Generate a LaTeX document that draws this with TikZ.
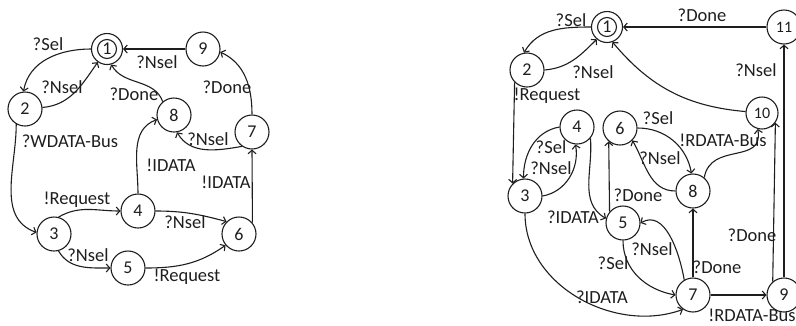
\documentclass[tikz,border=0pt]{standalone}
\usepackage{fontspec}
\setmainfont{Carlito}
\usetikzlibrary{arrows.meta}
\definecolor{ink}{HTML}{1E1E1E}
\begin{document}
\begin{tikzpicture}[x=1pt,y=1pt,
  st/.style={circle,draw=ink,line width=1.1pt,minimum size=34pt,inner sep=0pt,text=ink,font=\fontsize{18}{18}\selectfont},
  stsmall/.style={st,font=\fontsize{16}{16}\selectfont},
  init/.style={st,minimum size=31pt,path picture={\draw[ink,line width=1.1pt] (path picture bounding box.center) circle (9.5pt);}},
  lab/.style={inner sep=0pt,text=ink,font=\fontsize{18.5}{18.5}\selectfont},
  tr/.style={draw=ink,line width=1.1pt,-{Straight Barb[length=3.5pt,width=8pt]}}]
\useasboundingbox (0,0) rectangle (796,-325);
% ---------- left ----------
\node[init] (a1) at (107,-49) {1};
\node[st] (a9) at (203,-49) {9};
\node[st] (a2) at (25,-109) {2};
\node[st] (a8) at (174,-115) {8};
\node[st] (a7) at (252,-132) {7};
\node[st] (a4) at (138,-211) {4};
\node[st] (a3) at (54,-234) {3};
\node[st] (a5) at (128,-268) {5};
\node[st] (a6) at (239,-234) {6};
\draw[tr] (a1.west) to[out=180,in=80] (a2.95);
\draw[tr] (a2.5) to[out=5,in=235] (a1.235);
\draw[tr] (a9) -- (a1);
\draw[tr] (a7.north) to[out=90,in=-25] (a9.-10);
\draw[tr] (a8.130) to[out=110,in=-60] (a1.285);
\draw[tr] (a7.235) to[out=190,in=-60] (a8.280);
\draw[tr] (a2.240) to[out=-90,in=160] (a3.175);
\draw[tr] (a3.75) to[out=30,in=180] (a4.west);
\draw[tr] (a4.90) to[out=90,in=200] (a8.195);
\draw[tr] (a4.east) to[out=0,in=165] (a6.135);
\draw[tr] (a3.285) to[out=-60,in=180] (a5.west);
\draw[tr] (a5.east) to[out=0,in=215] (a6.220);
\draw[tr] (a6.40) -- (a7.270);
\node[lab] (la1) at (48,-44) {?Sel};
\node[lab] (la2) at (62,-87) {?Nsel};
\node[lab] (la3) at (157,-62) {?Nsel};
\node[lab] (la4) at (134,-94) {?Done};
\node[lab] (la5) at (227,-87) {?Done};
\node[lab] (la6) at (208,-139) {?Nsel};
\node[lab] (la7) at (70,-141) {?WDATA-Bus};
\node[lab] (la8) at (171,-165) {!IDATA};
\node[lab] (la9) at (226,-182) {!IDATA};
\node[lab] (la10) at (77,-200) {!Request};
\node[lab] (la11) at (185,-222) {?Nsel};
\node[lab] (la12) at (88,-255) {?Nsel};
\node[lab] (la13) at (187,-277) {!Request};
% ---------- right ----------
\node[init] (b1) at (607,-27) {1};
\node[stsmall] (b11) at (784,-27) {11};
\node[st] (b2) at (527,-70) {2};
\node[stsmall,minimum size=32pt] (b10) at (762,-113) {10};
\node[st] (b4) at (577,-127) {4};
\node[st] (b6) at (620,-128) {6};
\node[st] (b3) at (525,-196) {3};
\node[st] (b8) at (693,-191) {8};
\node[st] (b5) at (623,-223) {5};
\node[st] (b7) at (693,-295) {7};
\node[st] (b9) at (784,-295) {9};
\draw[tr] (b1.west) to[out=180,in=60] (b2.100);
\draw[tr] (b2.east) to[out=5,in=225] (b1.230);
\draw[tr] (b11.west) -- (b1.east);
\draw[tr] (b10.175) to[out=175,in=-50] (b1.290);
\draw[tr] (b2.225) -- (b3.135);
\draw[tr] (b4.west) to[out=190,in=90] (b3.95);
\draw[tr] (b3.east) to[out=10,in=-80] (b4.265);
\draw[tr] (b4.-40) to[out=-85,in=150] (b5.165);
\draw[tr] (b5.140) -- (b6.230);
\draw[tr] (b6.east) to[out=0,in=100] (b8.95);
\draw[tr] (b8.west) to[out=180,in=-60] (b6.-45);
\draw[tr] (b8.50) to[out=80,in=-80,looseness=1.3] (b10.255);
\draw[tr] (b5.south) to[out=-90,in=170] (b7.west);
\draw[tr] (b7.120) to[out=100,in=30] (b5.east);
\draw[tr] (b7.north) -- (b8.south);
\draw[tr] (b3.south) to[out=-90,in=-160] (b7.235);
\draw[tr] (b7.east) -- (b9.west);
\draw[tr] (b9.130) -- (b10.-36);
\draw[tr] (b9.north) -- (b11.south);
\node[lab] (lb1) at (571,-20) {?Sel};
\node[lab] (lb2) at (702,-15) {?Done};
\node[lab] (lb3) at (593,-72) {?Nsel};
\node[lab] (lb4) at (756,-70) {?Nsel};
\node[lab] (lb5) at (547,-96) {!Request};
\node[lab] (lb6) at (551,-147) {?Sel};
\node[lab] (lb7) at (551,-168) {?Nsel};
\node[lab] (lb8) at (658,-118) {?Sel};
\node[lab] (lb9) at (660,-158) {?Nsel};
\node[lab] (lb10) at (638,-195) {?Done};
\node[lab] (lb11) at (723,-140) {!RDATA-Bus};
\node[lab] (lb12) at (573,-217) {?IDATA};
\node[lab] (lb13) at (652,-249) {?Nsel};
\node[lab] (lb14) at (613,-263) {?Sel};
\node[lab] (lb15) at (717,-267) {?Done};
\node[lab] (lb16) at (752,-235) {?Done};
\node[lab] (lb17) at (602,-297) {?IDATA};
\node[lab] (lb18) at (752,-315) {!RDATA-Bus};
\end{tikzpicture}
\end{document}
